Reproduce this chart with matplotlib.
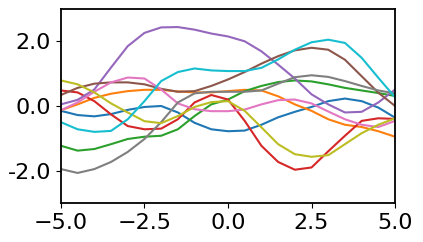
import numpy as np
import matplotlib
matplotlib.use('Agg')
import matplotlib.pyplot as plt

# values at x = -5, -4.5, ..., 5
x = [-5.0, -4.5, -4.0, -3.5, -3.0, -2.5, -2.0, -1.5, -1.0, -0.5, 0.0,
     0.5, 1.0, 1.5, 2.0, 2.5, 3.0, 3.5, 4.0, 4.5, 5.0]

blue   = [-0.15, -0.28, -0.32, -0.25, -0.12, -0.03, 0.0, -0.2, -0.52, -0.72, -0.78,
          -0.76, -0.58, -0.35, -0.18, -0.03, 0.15, 0.23, 0.15, -0.05, -0.36]
orange = [-0.13, 0.05, 0.25, 0.38, 0.46, 0.5, 0.5, 0.45, 0.42, 0.42, 0.46,
          0.5, 0.48, 0.3, 0.05, -0.15, -0.41, -0.58, -0.65, -0.78, -0.95]
green  = [-1.23, -1.38, -1.33, -1.18, -1.02, -0.95, -0.92, -0.72, -0.31, 0.05, 0.2,
          0.46, 0.62, 0.74, 0.79, 0.76, 0.67, 0.56, 0.48, 0.4, 0.31]
red    = [0.48, 0.42, 0.15, -0.26, -0.62, -0.72, -0.7, -0.41, 0.11, 0.34, 0.2,
          -0.46, -1.23, -1.73, -1.97, -1.9, -1.4, -0.92, -0.46, -0.38, -0.4]
purple = [0.05, 0.19, 0.51, 1.19, 1.85, 2.26, 2.43, 2.44, 2.36, 2.24, 2.15,
          2.0, 1.69, 1.28, 0.85, 0.36, 0.05, -0.2, -0.18, 0.11, 0.51]
brown  = [0.34, 0.56, 0.69, 0.73, 0.73, 0.67, 0.53, 0.44, 0.46, 0.62, 0.82,
          1.05, 1.31, 1.54, 1.72, 1.8, 1.74, 1.43, 0.92, 0.41, 0.0]
pink   = [-0.13, 0.11, 0.44, 0.73, 0.88, 0.85, 0.51, 0.08, -0.1, -0.16, -0.16,
          -0.11, 0.05, 0.18, 0.2, 0.08, -0.17, -0.41, -0.58, -0.65, -0.46]
gray   = [-1.95, -2.07, -1.95, -1.73, -1.42, -1.02, -0.5, 0.11, 0.39, 0.44, 0.44,
          0.44, 0.48, 0.69, 0.89, 0.95, 0.9, 0.77, 0.62, 0.48, 0.39]
olive  = [0.79, 0.67, 0.42, 0.08, -0.2, -0.47, -0.53, -0.31, -0.03, 0.12, 0.15,
          -0.15, -0.66, -1.18, -1.49, -1.57, -1.52, -1.18, -0.84, -0.58, -0.38]
cyan   = [-0.5, -0.72, -0.8, -0.77, -0.41, 0.15, 0.77, 1.05, 1.16, 1.1, 1.08,
          1.08, 1.18, 1.44, 1.74, 1.97, 2.05, 1.95, 1.49, 0.87, 0.27]

series = [blue, orange, green, red, purple, brown, pink, gray, olive, cyan]

yticks = [-2.0, 0.0, 2.0]
ytick_labels = ['-2.0', '0.0', '2.0']
xticks = [-5.0, -2.5, 0.0, 2.5, 5.0]

fig = plt.figure(figsize=(4.23, 2.42), dpi=100)
ax = fig.add_axes([0.144, 0.161, 0.79, 0.802])
for s in series:
    ax.plot(x, s, lw=1.5)

ax.set_xlim(-5, 5)
ax.set_ylim(-3, 3)
ax.set_xticks(xticks)
ax.set_yticks(yticks)
ax.set_yticklabels(ytick_labels)
ax.tick_params(labelsize=16)
for sp in ax.spines.values():
    sp.set_linewidth(1.3)

fig.savefig('out.png', dpi=100)
